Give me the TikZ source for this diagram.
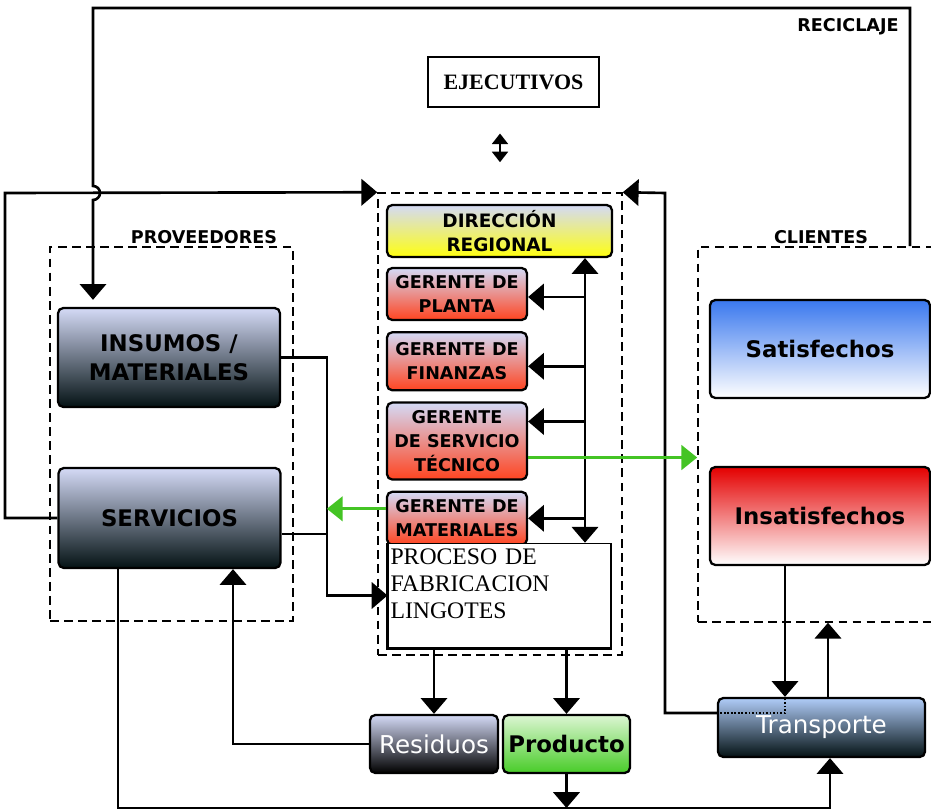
\documentclass[tikz,border=0pt]{standalone}
\usepackage{fontspec}
\setmainfont{Liberation Serif}
\setsansfont{DejaVu Sans}
\usetikzlibrary{arrows.meta,positioning}

\definecolor{lavanda}{HTML}{D4DAF6}
\definecolor{azulgris}{HTML}{5E8A9C}
\definecolor{casinegro}{HTML}{041214}
\definecolor{salmon}{HTML}{F29A86}
\definecolor{naranja}{HTML}{FF4420}
\definecolor{amarillo}{HTML}{FFFF10}
\definecolor{azulsat}{HTML}{3A78EE}
\definecolor{celeste}{HTML}{B0CCF8}
\definecolor{rojoins}{HTML}{E40000}
\definecolor{rosado}{HTML}{F39090}
\definecolor{verdeprod}{HTML}{48CC28}
\definecolor{verdeclaro}{HTML}{A8E890}
\definecolor{azultrans}{HTML}{46608A}
\definecolor{verdecito}{HTML}{44C424}

\begin{document}
\begin{tikzpicture}[%
			x=0.02cm, y=-0.02cm,
			align = center,
			font=\sffamily\bfseries,
			line width=1.5pt,
			>={Triangle[width=15pt,length=9pt]},
			caja/.style={%
				draw,
				line width=1.3pt,
				rounded corners=3pt,
				inner sep=1pt,
				font=\sffamily\bfseries\fontsize{13}{16.5}\selectfont
			},
			oscura/.style={%
				caja,
				minimum width=4.44cm,
				top color=lavanda,
				middle color=azulgris,
				bottom color=casinegro
			},
			gerente/.style={%
				caja,
				minimum width=2.8cm,
				top color=lavanda,
				middle color=salmon,
				bottom color=naranja,
				font=\sffamily\bfseries\fontsize{10}{13.5}\selectfont
			},
			grupo/.style={%
				draw,
				dash pattern=on 5pt off 3pt,
				line width=0.9pt
			},
			rotulo/.style={%
				font=\sffamily\bfseries\fontsize{10}{12}\selectfont
			},
			verde/.style={%
				->,
				draw=verdecito,
				line width=1.6pt,
				>={Triangle[width=14pt,length=9pt]}
			}
			]
			\useasboundingbox (0,0) rectangle (931,810);
			
			% dashed groups
			\node[grupo, minimum width=4.86cm, minimum height=7.48cm] (prov) at (171.5,434) {};
			\node[grupo, minimum width=4.88cm, minimum height=9.24cm] (ctr) at (500,424) {};
			\node[grupo, minimum width=4.94cm, minimum height=7.5cm] (cli) at (821.5,434.5) {};
			\node[rotulo] (provlbl) at (204,237) {PROVEEDORES};
			\node[rotulo] (clilbl) at (821,237) {CLIENTES};
			\node[rotulo] (reclbl) at (848,27) {RECICLAJE};
			
			\node[draw, line width=0.6pt, minimum width=3.42cm, minimum height=1cm,
				font=\rmfamily\bfseries\fontsize{12.5}{14}\selectfont] (exec) at (513.5,82) {EJECUTIVOS};
			
			% center column
			\node[caja, minimum width=4.5cm, minimum height=1.04cm, top color=lavanda,
				middle color=amarillo!85!white, bottom color=amarillo,
				font=\sffamily\bfseries\fontsize{10.5}{14}\selectfont] (dir) at (499.5,231) {DIRECCIÓN\\REGIONAL};
			\node[gerente, minimum height=1.04cm] (plnt) at (457,294) {GERENTE DE\\PLANTA};
			\node[gerente, minimum height=1.16cm, below=0.2cm of plnt] (fin) {GERENTE DE\\FINANZAS};
			\node[gerente, minimum height=1.54cm, below=0.2cm of fin] (stec) {GERENTE\\DE SERVICIO\\TÉCNICO};
			\node[gerente, minimum height=1.06cm, below=0.2cm of stec] (mat) {GERENTE DE\\MATERIALES};
			\node[draw, line width=0.6pt, fill=white, minimum width=4.46cm, minimum height=2.06cm,
				inner sep=1pt, text width=4.36cm, align=left,
				font=\rmfamily\fontsize{13.5}{15.5}\selectfont] (proc) at (499.5,595.5)
				{\begin{tabular}{@{}l@{}}PROCESO DE\\FABRICACION\\LINGOTES\\[11pt]\end{tabular}};
			\draw[line width=2pt] (proc.north west) |- (proc.south east);
			
			% proveedores, clientes
			\node[oscura, minimum height=1.98cm] (ins) at (169,357.5) {INSUMOS /\\MATERIALES};
			\node[oscura, minimum height=2cm] (srv) at (169.5,518) {SERVICIOS};
			\node[caja, minimum width=4.4cm, minimum height=1.96cm, top color=azulsat,
				middle color=celeste, bottom color=white] (sat) at (820,349) {Satisfechos};
			\node[caja, minimum width=4.4cm, minimum height=1.96cm, top color=rojoins,
				middle color=rosado, bottom color=white] (insat) at (820,516) {Insatisfechos};
			
			% bottom row
			\node[caja, minimum width=2.56cm, minimum height=1.16cm, top color=lavanda,
				middle color=black!55!lavanda, bottom color=black, text=white,
				font=\sffamily\fontsize{14}{16}\selectfont] (res) at (434,744) {Residuos};
			\node[caja, minimum width=2.54cm, minimum height=1.16cm, top color=verdeclaro!40!white,
				middle color=verdeclaro, bottom color=verdeprod] (prod) at (566.5,744) {Producto};
			\node[caja, minimum width=4.14cm, minimum height=1.18cm, top color=celeste,
				middle color=azultrans, bottom color=casinegro, text=white,
				font=\sffamily\fontsize{14}{16}\selectfont] (trans) at (821.5,727.5) {Transporte};
			
			% connectors
			\draw[->, shorten >=4pt] (910,0 |- cli.north) -- (910,8) -- (93,8) -- (93,186)
				arc[start angle=90, end angle=-90, radius=0.14cm] -- (93,0 |- ins.north);
			\draw[->] (srv.west) -| (5,193) -- (ctr.north west);
			\draw[->] ([yshift=0.29cm]trans.west) -| (665,193) -- (ctr.north east);
			\draw[densely dotted, line width=1pt] ([yshift=0.29cm]trans.west) -| (785,0 |- trans.north);
			\draw[->] (785,0 |- insat.south) -- (785,0 |- trans.north);
			\draw[->] (828,0 |- trans.north) -- (828,0 |- cli.south);
			\draw[->] (118,0 |- srv.south) |- (830,808) -- (830,0 |- trans.south);
			\draw[->] (prod.south) -- (prod.south |- 0,808);
			\draw[->] (res.west) -| (233,0 |- srv.south);
			\draw[->] (proc.south -| res.north) -- (res.north);
			\draw[->] (proc.south -| prod.north) -- (prod.north);
			\coordinate (jn) at (327,534);
			\draw[->] (ins.east) -| (jn |- proc.west) -- (proc.west);
			\draw (srv.east |- jn) -- (jn);
			\draw[<->] (585,0 |- dir.south) -- (585,0 |- proc.north);
			\foreach \g/\d in {plnt/-0.06, fin/-0.1, stec/0.39, mat/0}
				\draw[->] ([yshift=\d cm]\g.east -| 585,0) -- ([yshift=\d cm]\g.east);
			\draw[verde] ([yshift=-0.33cm]stec.east) -- ([yshift=-0.33cm]stec.east -| cli.west);
			\draw[verde] ([yshift=0.19cm]mat.west) -- ++(-59,0);
			\draw[<->, line width=1.4pt, >={Triangle[width=9pt,length=6pt]},
				shorten <=0.52cm, shorten >=0.6cm] (exec.south -| ctr.north) -- (ctr.north);
			\end{tikzpicture}
\end{document}
